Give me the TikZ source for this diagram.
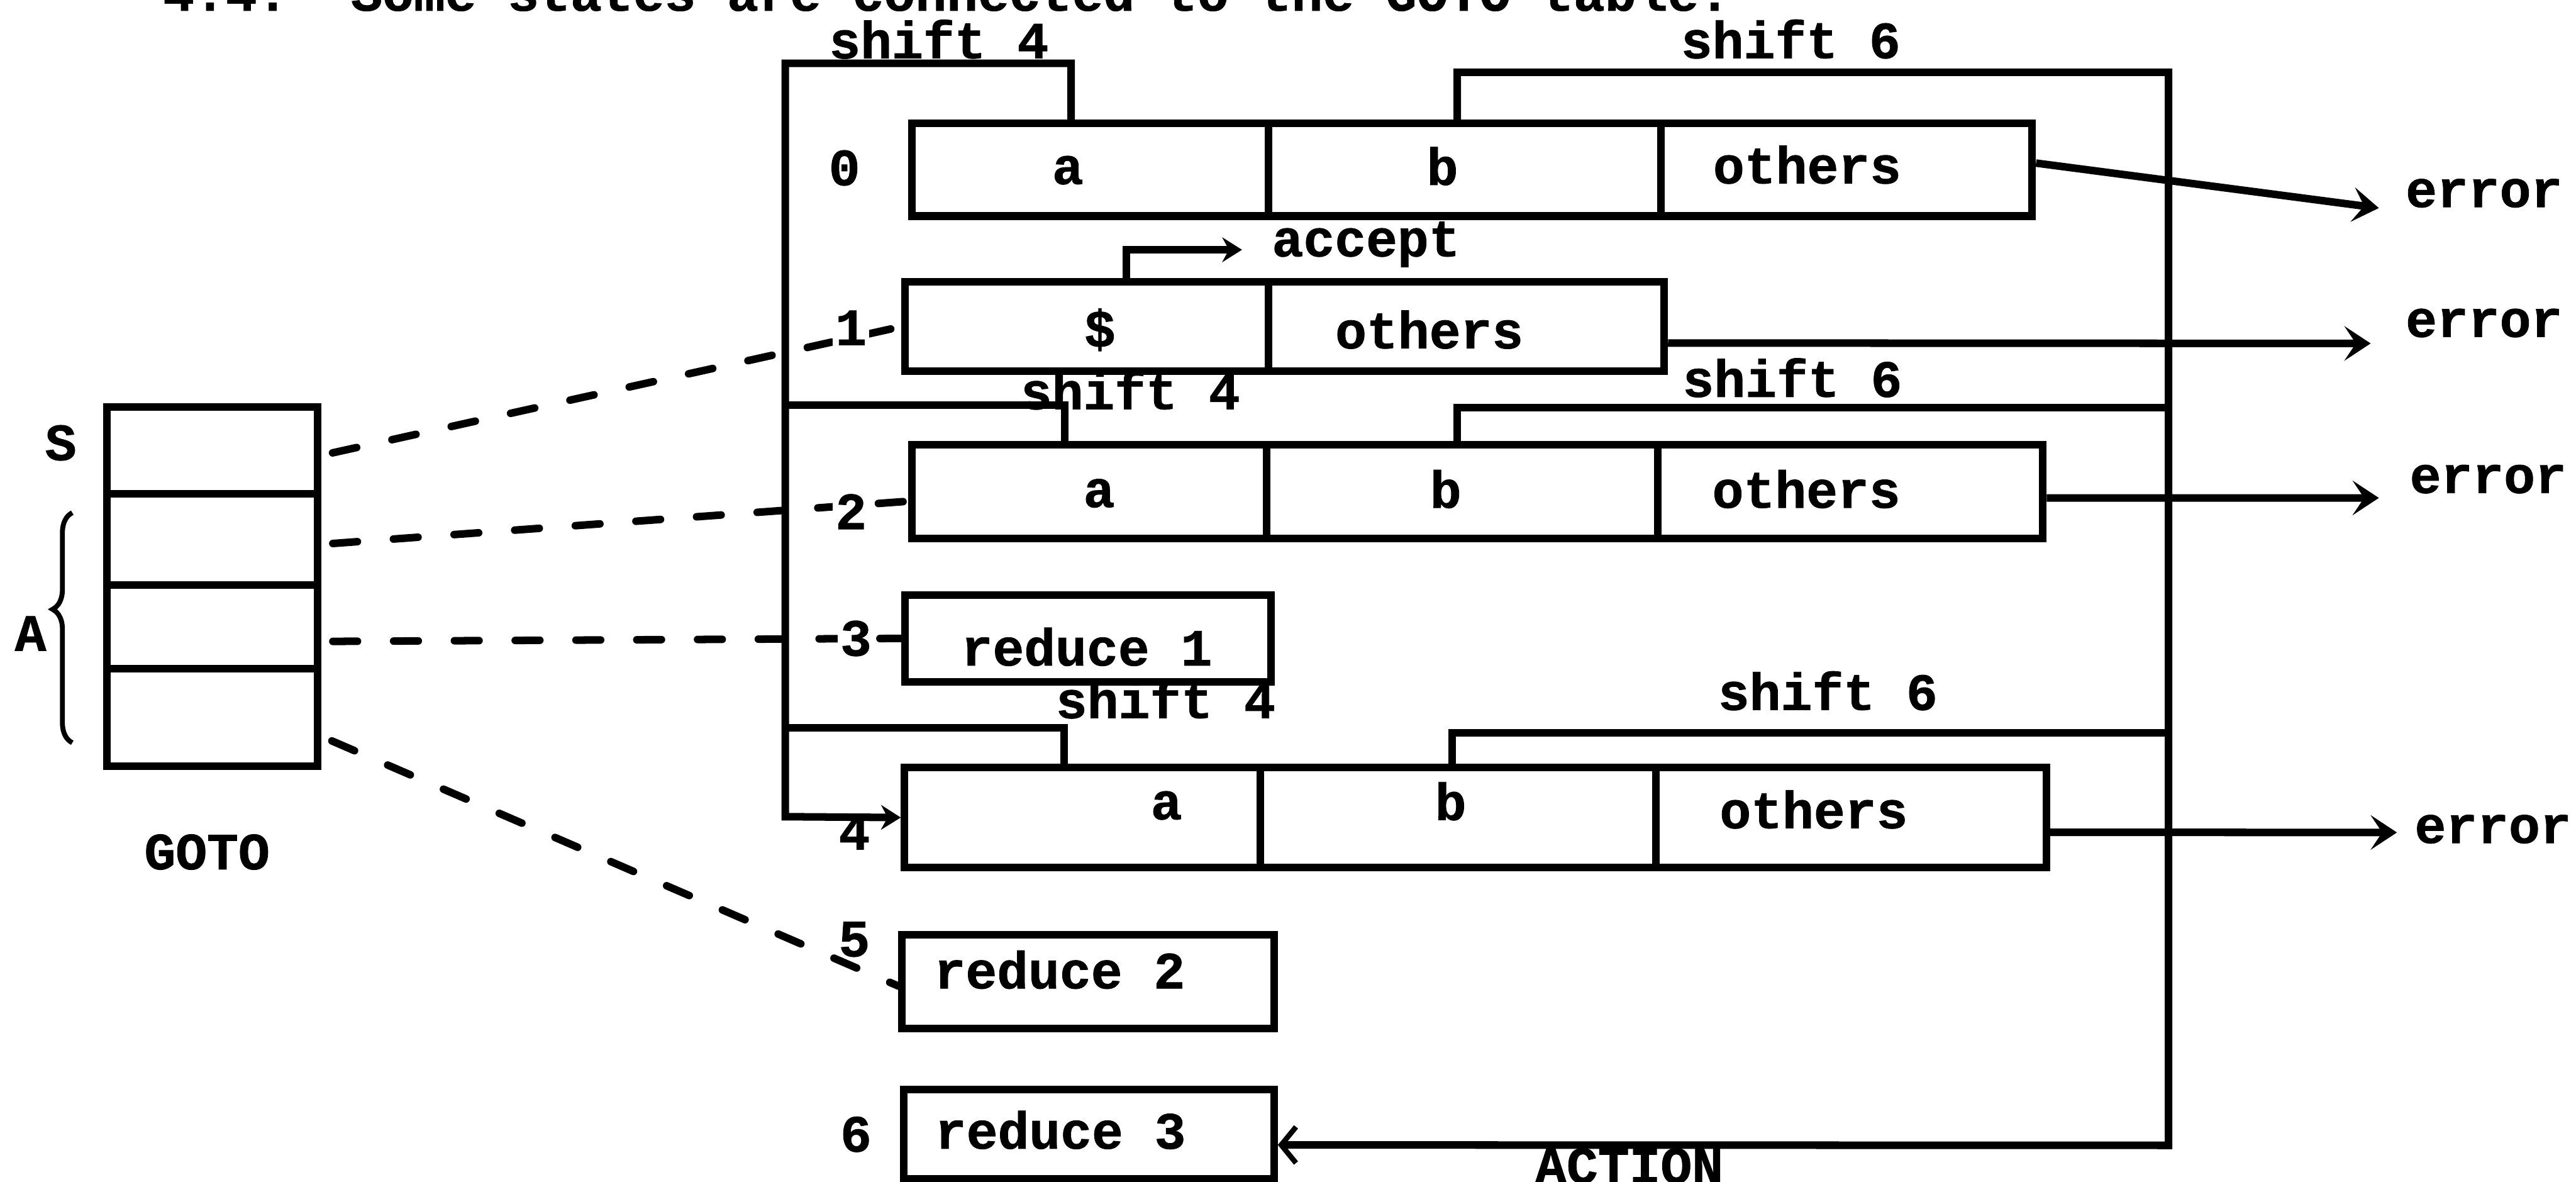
\documentclass[tikz,border=0pt]{standalone}
\usepackage{fontspec}
\setmainfont{Liberation Mono}[BoldFeatures={FakeBold=1}]
\usetikzlibrary{arrows.meta,decorations.pathreplacing}
\frenchspacing
\newcommand\mkcell[5]{\node[cell, minimum width={(#4)-(#2)}, minimum height={(#5)-(#3)}] (#1) at ({((#2)+(#4))/2},{((#3)+(#5))/2}) {};}
\begin{document}
\begin{tikzpicture}[x=1pt,y=-1pt,
  every node/.style={font=\fontsize{31.8pt}{36pt}\selectfont\bfseries},
  lbl/.style={anchor=base, inner sep=0pt},
  numlbl/.style={anchor=base, inner sep=1.5pt, fill=white},
  cell/.style={draw, line width=4.6pt, inner sep=0pt},
  ln/.style={line width=4.6pt},
  dsh/.style={line width=4.6pt, dash pattern=on 15pt off 22pt, line cap=round, shorten <=7pt},
  arr/.style={line width=4.6pt, -{Stealth[length=16pt,width=21pt,inset=7pt]}},
  sarr/.style={line width=4.6pt, -{Stealth[length=12pt,width=15pt,inset=4pt]}},
  barb/.style={line width=4.6pt, -{Straight Barb[length=9pt,width=22pt,line width=3.2pt]}}
]
\useasboundingbox (0,0) rectangle (1568,719);
\clip (0,0) rectangle (1568,719);

% title (cut off at the top, as in the scan)
\node[lbl, anchor=base west] (title) at (99,6.5) {4.4.\ \ Some states are connected to the GOTO table.};

% GOTO table
\mkcell{g1}{65}{247.6}{193.3}{300.6}
\mkcell{g2}{65}{300.6}{193.3}{355.9}
\mkcell{g3}{65}{355.9}{193.3}{406.8}
\mkcell{g4}{65}{406.8}{193.3}{466.4}
\node[lbl] (lS) at (37,280) {S};
\node[lbl] (lA) at (18.6,396) {A};
\node[lbl] (lgoto) at (126,529) {GOTO};
\draw[line width=3pt, decorate, decoration={brace, amplitude=12pt, aspect=0.58}] (44,452) -- (44,312);

% state 0
\mkcell{b0a}{555}{75}{772}{131.5}
\mkcell{b0b}{772}{75}{1011}{131.5}
\mkcell{b0o}{1011}{75}{1237}{131.5}
% state 1
\mkcell{b1d}{551}{171.5}{772}{226}
\mkcell{b1o}{772}{171.5}{1013}{226}
% state 2
\mkcell{b2a}{555}{270.6}{771}{327.5}
\mkcell{b2b}{771}{270.6}{1009}{327.5}
\mkcell{b2o}{1009}{270.6}{1243.5}{327.5}
% state 3
\mkcell{b3}{551}{362}{773.5}{415}
% state 4
\mkcell{b4a}{550.6}{467}{767}{528}
\mkcell{b4b}{767}{467}{1008}{528}
\mkcell{b4o}{1008}{467}{1245.5}{528}
% state 5, 6
\mkcell{b5}{549}{569}{775.5}{626}
\mkcell{b6}{550}{663}{775.5}{717.5}

% cell texts
\node[lbl] (t0a) at (650,112) {a};
\node[lbl] (t0b) at (878,112.5) {b};
\node[lbl] (t0o) at (1100,111.6) {others};
\node[lbl] (t1d) at (669.5,211) {\$};
\node[lbl] (t1o) at (870,212) {others};
\node[lbl] (t2a) at (669,308.6) {a};
\node[lbl] (t2b) at (880,309) {b};
\node[lbl] (t2o) at (1099.5,309) {others};
\node[lbl] (t3) at (661.5,405) {reduce 1};
\node[lbl] (t4a) at (710,498.6) {a};
\node[lbl] (t4b) at (883,499) {b};
\node[lbl] (t4o) at (1104,504) {others};
\node[lbl] (t5) at (645,601.5) {reduce 2};
\node[lbl] (t6) at (645.5,699) {reduce 3};

% state numbers without dashes
\node[lbl] (l0) at (514,112.7) {0};
\node[lbl] (l4) at (520,517) {4};
\node[lbl] (l6) at (521,700.8) {6};

% shift labels
\node[lbl] (s4a) at (571.5,35.5) {shift 4};
\node[lbl] (s6a) at (1090,35.4) {shift 6};
\node[lbl] (s4b) at (688,249) {shift 4};
\node[lbl] (s6b) at (1091,241.5) {shift 6};
\node[lbl] (s4c) at (709.5,437) {shift 4};
\node[lbl] (s6c) at (1112.6,432) {shift 6};

% other labels
\node[lbl] (acc) at (831.5,156) {accept};
\node[lbl] (e0) at (1512,126) {error};
\node[lbl] (e1) at (1512,205) {error};
\node[lbl] (e2) at (1514.5,300) {error};
\node[lbl] (e4) at (1517.5,513) {error};
\node[lbl] (action) at (991.7,720) {ACTION};

% shift 4 connectors (left loop)
\draw[sarr] ([xshift=-11.5pt]b0a.north) |- (478,38.5) -- (478,497) -- (b4a.west);
\draw[ln] ([xshift=-15pt]b2a.north) |- (478,246.5);
\draw[ln] ([xshift=-11pt]b4a.north) |- (478,443);

% shift 6 connectors (right loop)
\draw[barb] ([xshift=-4.5pt]b0b.north) |- (1320,44) -- (1320,697) -- ([yshift=-6.5pt]b6.east);
\draw[ln] ([xshift=-3pt]b2b.north) |- (1320,248);
\draw[ln] ([xshift=-3.5pt]b4b.north) |- (1320,446);

% accept
\coordinate (acctip) at (756,152);
\draw[sarr] ([xshift=24pt]b1d.north) |- (acctip);

% error arrows
\coordinate (et0) at (1448,126.6);
\coordinate (et1) at (1443,209);
\coordinate (et2) at (1448,303);
\coordinate (et4) at (1459,506.6);
\draw[arr] ([yshift=4pt]b0o.east) -- (et0);
\draw[arr] ([yshift=-10pt]b1o.east) -- (et1);
\draw[arr] ([yshift=-4pt]b2o.east) -- (et2);
\draw[arr] ([yshift=-9pt]b4o.east) -- (et4);

% GOTO dashed links
\draw[dsh] ([yshift=-3pt]g1.east) -- (b1d.west);
\draw[dsh] ([yshift=-3pt]g2.east) -- ([yshift=-6pt]b2a.west);
\draw[dsh] ([yshift=-9pt]g3.east) -- (b3.west);
\draw[dsh] ([yshift=-11.5pt]g4.east) -- ([yshift=-2.5pt]b5.west);

% state numbers on the dashed links
\node[numlbl] (l1) at (518,210) {1};
\node[numlbl] (l2) at (518,322) {2};
\node[numlbl] (l3) at (521,399) {3};
\node[lbl] (l5) at (520,582) {5};
\end{tikzpicture}
\end{document}
